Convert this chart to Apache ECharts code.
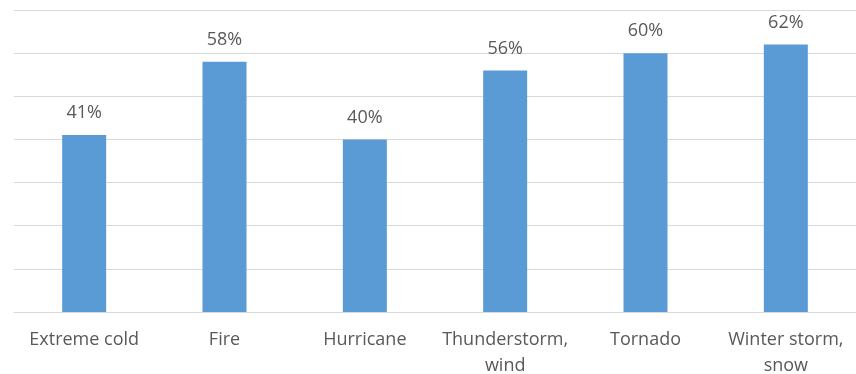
<!DOCTYPE html>
<html>
<head>
<meta charset="utf-8">
<script src="https://cdn.jsdelivr.net/npm/echarts@6/dist/echarts.min.js"></script>
<style>
  html, body { margin: 0; padding: 0; background: #fff; }
  #chart { width: 856px; height: 374px; }
</style>
</head>
<body>
<div id="chart"></div>
<script>
// 카테고리와 값 (퍼센트)
const categories = ['Extreme cold', 'Fire', 'Hurricane', 'Thunderstorm,\nwind', 'Tornado', 'Winter storm,\nsnow'];
const values = [41, 58, 40, 56, 60, 62];
const yTicks = [0, 10, 20, 30, 40, 50, 60, 70];

const chart = echarts.init(document.getElementById('chart'));

chart.setOption({
    animation: false,
    grid: { left: 14, right: 0, top: 10, bottom: 62, outerBoundsMode: 'none', containLabel: false },
    xAxis: {
        type: 'category',
        data: categories,
        axisLine: { lineStyle: { color: '#d9d9d9', width: 1 } },
        axisTick: { show: false },
        axisLabel: {
            interval: 0,
            margin: 15,
            fontSize: 18,
            lineHeight: 26,
            color: '#595959',
            fontFamily: '"Open Sans", sans-serif'
        }
    },
    yAxis: {
        type: 'value',
        min: yTicks[0],
        max: yTicks[yTicks.length - 1],
        interval: 10,
        axisLine: { show: false },
        axisTick: { show: false },
        axisLabel: { show: false },
        splitLine: { lineStyle: { color: '#d9d9d9', width: 1 } }
    },
    series: [{
        type: 'bar',
        data: values,
        barWidth: 44,
        itemStyle: { color: '#5b9bd5' },
        label: {
            show: true,
            position: 'top',
            distance: 13,
            formatter: '{c}%',
            fontSize: 18,
            color: '#595959',
            fontFamily: '"Open Sans", sans-serif'
        }
    }]
});
</script>
</body>
</html>
